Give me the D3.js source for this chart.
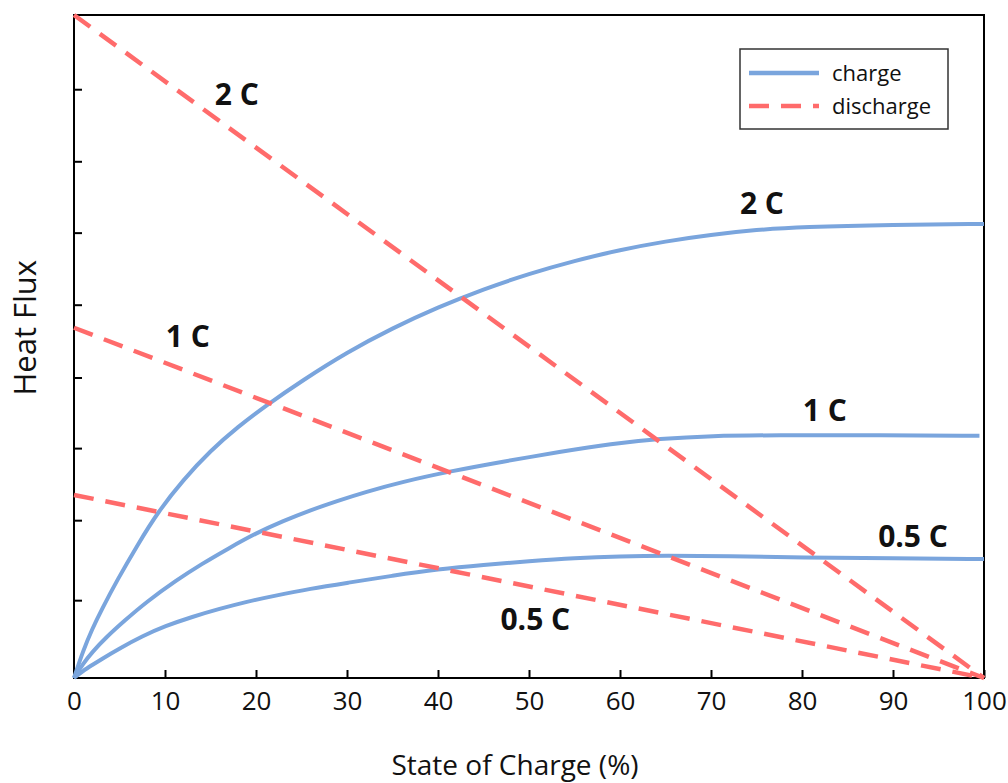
<!DOCTYPE html>
<html>
<head>
<meta charset="utf-8">
<script src="https://cdn.jsdelivr.net/npm/d3@7"></script>
<style>
  body { margin: 0; background: #fff; }
  text { font-family: "Open Sans", sans-serif; fill: #111; }
</style>
</head>
<body>
<div id="plotDiv"></div>
<script>
// state of charge (%) and heat flux (arbitrary units)
var xTicks = [0, 10, 20, 30, 40, 50, 60, 70, 80, 90, 100];
var yTicks = [1.08, 2.19, 3.19, 4.17, 5.18, 6.18, 7.17, 8.17];

var charge2C = [[0,0],[1,0.38],[2,0.68],[3,0.94],[4.75,1.36],[7,1.85],[9.2,2.3],[12,2.75],[15,3.155],[18,3.485],[21.2,3.79],[25,4.12],[30,4.52],[35,4.855],[40,5.145],[45,5.395],[50,5.61],[55,5.79],[60,5.94],[65,6.06],[70,6.15],[75,6.22],[80,6.26],[90,6.29],[100,6.3]];
var charge1C = [[0,0],[1,0.2],[2,0.36],[3.5,0.56],[5.5,0.79],[8,1.06],[11.3,1.36],[14,1.58],[17,1.8],[20,2.01],[23,2.18],[26,2.33],[29,2.46],[32,2.58],[36,2.72],[41.4,2.87],[47,3.0],[53.5,3.14],[59,3.25],[64.4,3.32],[70,3.36],[77,3.37],[88,3.37],[99.5,3.36]];
var charge05C = [[0,0],[1,0.1],[2,0.18],[3,0.26],[5,0.41],[7.5,0.58],[10,0.72],[13,0.85],[16,0.96],[19,1.06],[22,1.14],[26,1.24],[30,1.32],[35,1.42],[40,1.51],[45,1.57],[50,1.62],[55,1.665],[60,1.69],[65,1.7],[72,1.69],[80,1.67],[90,1.66],[100,1.65]];

var discharge2C = [[0,9.2],[100,0]];
var discharge1C = [[0,4.86],[100,0]];
var discharge05C = [[0,2.54],[100,0]];

var chargeLabels = [{ text: "2 C", x: 75.6, y: 6.44 }, { text: "1 C", x: 82.5, y: 3.56 }, { text: "0.5 C", x: 92.2, y: 1.82 }];
var dischargeLabels = [{ text: "2 C", x: 17.9, y: 7.95 }, { text: "1 C", x: 12.5, y: 4.6 }, { text: "0.5 C", x: 50.7, y: 0.66 }];

var margin = { top: 15, right: 24, bottom: 105, left: 74 };
var width = 1008 - margin.left - margin.right;
var height = 783 - margin.top - margin.bottom;

var svg = d3.select("#plotDiv").append("svg")
    .attr("width", 1008)
    .attr("height", 783)
    .append("g").attr("transform", "translate(" + margin.left + "," + margin.top + ")");

var xScale = d3.scaleLinear().domain([0, 100]).range([0, width]);
var yScale = d3.scaleLinear().domain([0, 9.2]).range([height, 0]);

var xAxis = d3.axisBottom(xScale).tickValues(xTicks).tickSizeInner(-8).tickSizeOuter(0).tickPadding(14);
var yAxis = d3.axisLeft(yScale).tickValues(yTicks).tickSizeInner(-8).tickSizeOuter(0).tickFormat("");

var gx = svg.append("g").attr("transform", "translate(0," + height + ")").call(xAxis);
var gy = svg.append("g").call(yAxis);
gx.selectAll("text").style("font-size", "26px").style("font-family", "Open Sans").attr("fill", "#111");
[gx, gy].forEach(function (g) {
    g.select(".domain").remove();
    g.selectAll("line").attr("stroke", "#000").attr("stroke-width", 2);
});

svg.append("rect").attr("x", 0).attr("y", 0).attr("width", width).attr("height", height)
    .attr("fill", "none").attr("stroke", "#000").attr("stroke-width", 2);

var line = d3.line()
    .x(function (d) { return xScale(d[0]); })
    .y(function (d) { return yScale(d[1]); })
    .curve(d3.curveBasis);

var blue = "#7AA5DD", red = "#FF6B6B";

[charge2C, charge1C, charge05C].forEach(function (s) {
    svg.append("path").datum(s).attr("d", line)
        .attr("fill", "none").attr("stroke", blue).attr("stroke-width", 4);
});
[discharge2C, discharge1C, discharge05C].forEach(function (s) {
    svg.append("path").datum(s).attr("d", line)
        .attr("fill", "none").attr("stroke", red).attr("stroke-width", 4.5)
        .attr("stroke-dasharray", "20,12");
});

svg.selectAll(".lbl").data(chargeLabels.concat(dischargeLabels)).enter().append("text")
    .attr("x", function (d) { return xScale(d.x); })
    .attr("y", function (d) { return yScale(d.y); })
    .attr("text-anchor", "middle")
    .style("font-size", "30px").style("font-weight", "bold")
    .text(function (d) { return d.text; });

// axis titles
svg.append("text").attr("x", 441).attr("y", height + 97)
    .attr("text-anchor", "middle").style("font-size", "28px")
    .text("State of Charge (%)");
svg.append("text").attr("transform", "translate(-38," + yScale(4.86) + ") rotate(-90)")
    .attr("text-anchor", "middle").style("font-size", "31px")
    .text("Heat Flux");

// legend
var legend = svg.append("g").attr("transform", "translate(" + (740 - margin.left) + "," + (49 - margin.top) + ")");
legend.append("rect").attr("width", 208).attr("height", 80)
    .attr("fill", "#fff").attr("stroke", "#333").attr("stroke-width", 1.5);
var legendItems = [{ name: "charge", color: blue, dash: null }, { name: "discharge", color: red, dash: "20,12" }];
legendItems.forEach(function (d, i) {
    var yy = 24 + i * 33;
    legend.append("line").attr("x1", 9).attr("x2", 79).attr("y1", yy).attr("y2", yy)
        .attr("stroke", d.color).attr("stroke-width", 4.5).attr("stroke-dasharray", d.dash);
    legend.append("text").attr("x", 92).attr("y", yy + 8).style("font-size", "22px").text(d.name);
});
</script>
</body>
</html>
